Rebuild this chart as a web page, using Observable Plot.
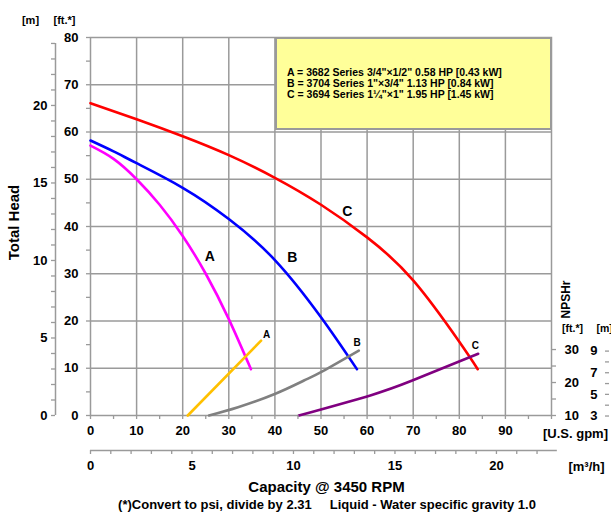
<!DOCTYPE html>
<html>
<head>
<meta charset="utf-8">
<script src="https://cdn.jsdelivr.net/npm/d3@7"></script>
<script src="https://cdn.jsdelivr.net/npm/@observablehq/plot@0.6"></script>
<style>
  body { margin: 0; background: #fff; }
  #wrap { position: relative; width: 611px; height: 515px; overflow: hidden;
          font-family: Arial, "Liberation Sans", sans-serif; }
  #wrap svg { position: absolute; left: 0; top: 0; }
  #legend { position: absolute; left: 275px; top: 37px; width: 277px; height: 93px;
            box-sizing: border-box; background: #ffff99; border: 2px solid #9a9a9a;
            font-weight: bold; font-size: 10.5px; line-height: 11px; color: #000; }
  #legend .txt { position: absolute; left: 10px; top: 28px; white-space: nowrap; }
</style>
</head>
<body>
<div id="wrap"></div>
<script>
// ---- data ----
// Total head curves, ft vs U.S. gpm
const gpmA = [0, 5, 10, 15, 20, 25, 30, 34.8];
const headA = [57.1, 54.3, 50.0, 44.6, 38.0, 30.0, 20.4, 9.8];
const gpmB = [0, 5, 10, 20, 30, 40, 50, 57.8];
const headB = [58.2, 55.9, 53.4, 48.2, 41.6, 32.9, 20.8, 9.8];
const gpmC = [0, 10, 20, 30, 40, 50, 60, 70, 80, 84];
const headC = [66.1, 62.7, 59.1, 55.1, 50.3, 44.6, 37.7, 28.6, 15.6, 9.8];
// NPSHr curves, ft vs U.S. gpm
const npshGpmA = [21.1, 37];
const npshA = [10, 32.7];
const npshGpmB = [25.7, 32, 40.1, 46.3, 50.3, 58.2];
const npshB = [10, 12.5, 16.6, 20.6, 23.4, 29.7];
const npshGpmC = [45.2, 60.7, 69.8, 84.1];
const npshC = [10, 16.1, 20.6, 28.7];
// curve labels
const bigLabels = ["A", "B", "C"];
const bigLabelGpm = [25.9, 43.75, 55.7];
const bigLabelFt = [33.7, 33.4, 43.2];
const smallLabels = ["A", "B", "C"];
const smallLabelGpm = [38.2, 57.85, 83.5];
const smallLabelFt = [17.1, 15.3, 14.75];
// legend
const legendLines = [
  "A = 3682 Series 3/4\"\u00d71/2\" 0.58 HP [0.43 kW]",
  "B = 3704 Series 1\"\u00d73/4\" 1.13 HP [0.84 kW]",
  "C = 3694 Series 1\u00bc\"\u00d71\" 1.95 HP [1.45 kW]"
];
// ticks
const gpmTicks = d3.range(0, 101, 5);
const ftTicks = d3.range(0, 81, 5);
const mTicks = d3.range(0, 25, 1);
const m3hTicks = d3.range(0, 23, 1);
const npshFtTicks = [10, 15, 20, 25, 30];
const npshMTicks = [3, 4, 5, 6, 7, 8, 9];

// unit conversions
const FT_PER_M = 3.28084;
const GPM_PER_M3H = 4.40287;
const NPSH_BASE = 10;      // NPSHr ft at the bottom of the frame
const NPSH_SCALE = 0.698;  // head-ft per NPSHr-ft
const npshToHead = n => (n - NPSH_BASE) * NPSH_SCALE;
const headToNpsh = h => h / NPSH_SCALE + NPSH_BASE;

const rows = (xs, ys) => xs.map((x, i) => ({gpm: x, v: ys[i]}));

const GRID = "#9a9a9a";
const font = 'Arial, "Liberation Sans", sans-serif';
const CURVE = "natural";

const label = (txt, fa, dx, dy, opts = {}) =>
  Plot.text([txt], {text: d => d, frameAnchor: fa, dx, dy, fill: "black",
                    textAnchor: "middle", lineAnchor: "middle", ...opts});

const axisStyle = {stroke: GRID, strokeWidth: 1.3, fill: "black", label: null};

const chart = Plot.plot({
  width: 611, height: 515,
  marginTop: 37, marginLeft: 90, marginRight: 60, marginBottom: 100,
  x: {domain: [0, 100], label: null},
  y: {domain: [0, 80], label: null},
  style: {fontFamily: font, fontWeight: "bold", fontSize: "13px", color: "black", background: "transparent", overflow: "visible"},
  marks: [
    Plot.gridX({ticks: d3.range(10, 100, 10), stroke: GRID, strokeOpacity: 1, strokeWidth: 1.5}),
    Plot.gridY({ticks: d3.range(10, 80, 10), stroke: GRID, strokeOpacity: 1, strokeWidth: 1.5}),
    Plot.frame({stroke: GRID, strokeWidth: 1.5}),

    // head curves
    Plot.line(rows(gpmA, headA), {x: "gpm", y: "v", stroke: "#ff00ff", strokeWidth: 2.6, curve: CURVE}),
    Plot.line(rows(gpmB, headB), {x: "gpm", y: "v", stroke: "#0000ff", strokeWidth: 2.6, curve: CURVE}),
    Plot.line(rows(gpmC, headC), {x: "gpm", y: "v", stroke: "#ff0000", strokeWidth: 2.6, curve: CURVE}),
    // NPSHr curves
    Plot.line(rows(npshGpmA, npshA), {x: "gpm", y: d => npshToHead(d.v), stroke: "#ffc000", strokeWidth: 2.6, curve: CURVE}),
    Plot.line(rows(npshGpmB, npshB), {x: "gpm", y: d => npshToHead(d.v), stroke: "#808080", strokeWidth: 2.6, curve: CURVE}),
    Plot.line(rows(npshGpmC, npshC), {x: "gpm", y: d => npshToHead(d.v), stroke: "#800080", strokeWidth: 2.6, curve: CURVE}),

    // curve labels
    Plot.text(bigLabels, {x: (d, i) => bigLabelGpm[i], y: (d, i) => bigLabelFt[i], text: d => d, fontSize: 14, fill: "black"}),
    Plot.text(smallLabels, {x: (d, i) => smallLabelGpm[i], y: (d, i) => smallLabelFt[i], text: d => d, fontSize: 10, fill: "black"}),

    // left ft axis
    Plot.axisY({ticks: ftTicks, tickFormat: d => d % 10 === 0 ? d : "", anchor: "left", tickSize: 4, tickPadding: 8, ...axisStyle}),
    // left metre axis
    Plot.ruleX([0], {y1: 0, y2: 24 * FT_PER_M, dx: -35, stroke: GRID, strokeWidth: 1.5}),
    Plot.axisY({ticks: mTicks.map(m => m * FT_PER_M), tickFormat: d => { const m = Math.round(d / FT_PER_M); return m % 5 === 0 ? m : ""; },
                anchor: "left", dx: -35, tickSize: 4, tickPadding: 4, ...axisStyle}),
    // bottom gpm axis
    Plot.axisX({ticks: gpmTicks, tickFormat: d => (d % 10 === 0 && d < 100) ? d : "", anchor: "bottom", tickSize: 4, tickPadding: 6, ...axisStyle}),
    // bottom m3/h axis
    Plot.ruleY([0], {x1: 0, x2: 23 * GPM_PER_M3H, dy: 35, stroke: GRID, strokeWidth: 1.5}),
    Plot.axisX({ticks: m3hTicks.map(v => v * GPM_PER_M3H), tickFormat: d => { const v = Math.round(d / GPM_PER_M3H); return v % 5 === 0 ? v : ""; },
                anchor: "bottom", dy: 35, tickSize: 4, tickPadding: 6, ...axisStyle}),
    // right NPSHr ft axis
    Plot.axisY({ticks: npshFtTicks.map(npshToHead), tickFormat: d => { const n = Math.round(headToNpsh(d)); return n % 10 === 0 ? n : ""; },
                anchor: "right", tickSize: 4, tickPadding: 9, ...axisStyle}),
    // right NPSHr metre axis
    Plot.axisY({ticks: npshMTicks.map(m => npshToHead(m * FT_PER_M)), tickFormat: d => { const m = Math.round(headToNpsh(d) / FT_PER_M); return m % 2 === 1 ? m : ""; },
                anchor: "left", dx: 519, tickSize: 4, tickPadding: 8, ...axisStyle}),

    // axis titles
    label("[m]", "top-left", -60, -17, {fontSize: 11}),
    label("[ft.*]", "top-left", -26, -17, {fontSize: 11}),
    label("Total Head", "left", -76, -4, {fontSize: 15, rotate: -90}),
    label("NPSHr", "bottom-right", 15, -116, {fontSize: 12, rotate: -90}),
    label("[ft.*]", "bottom-right", 21, -87, {fontSize: 10.5}),
    label("[m]", "bottom-right", 45, -87, {fontSize: 10.5, textAnchor: "start"}),
    label("[U.S. gpm]", "bottom-right", 24, 18, {fontSize: 13}),
    label("[m\u00b3/h]", "bottom-right", 35, 51, {fontSize: 13}),
    label("Capacity @ 3450 RPM", "bottom", 5.5, 72, {fontSize: 15}),
    label("(*)Convert to psi, divide by 2.31\u00a0\u00a0\u00a0\u00a0\u00a0Liquid - Water specific gravity 1.0", "bottom", 6, 89, {fontSize: 13})
  ]
});

const wrap = document.getElementById("wrap");
wrap.appendChild(chart);
const lg = document.createElement("div");
lg.id = "legend";
const t = document.createElement("div");
t.className = "txt";
t.innerHTML = legendLines.map(s => s.replace(/&/g, "&amp;").replace(/</g, "&lt;")).join("<br>");
lg.appendChild(t);
wrap.appendChild(lg);
</script>
</body>
</html>
